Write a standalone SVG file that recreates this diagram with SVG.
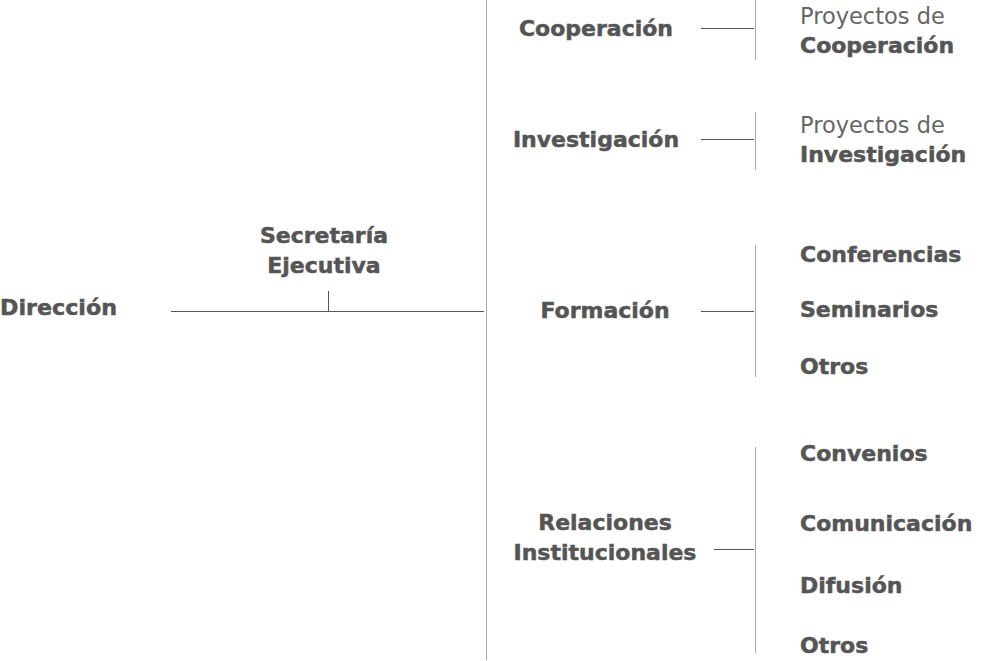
<svg xmlns="http://www.w3.org/2000/svg" width="981" height="661" viewBox="0 0 981 661">
<style>
text{font-family:"DejaVu Sans","Liberation Sans",sans-serif;fill:#555;font-size:22px}
.b{font-weight:bold;stroke:#555;stroke-width:0.5}
.r{font-weight:normal;fill:#666;font-size:22.5px}
.m{text-anchor:middle}
line{stroke:#555;stroke-width:1}
.g{stroke:#aaa}
</style>
<rect width="981" height="661" fill="#fff"/>
<g id="connectors">
<line class="g" x1="486.5" y1="0" x2="486.5" y2="660"/>
<line x1="171" y1="311.5" x2="484" y2="311.5"/>
<line x1="328.5" y1="291" x2="328.5" y2="311"/>
<line class="g" x1="755.5" y1="0" x2="755.5" y2="60"/>
<line class="g" x1="755.5" y1="112" x2="755.5" y2="170"/>
<line class="g" x1="755.5" y1="245" x2="755.5" y2="377"/>
<line class="g" x1="755.5" y1="447" x2="755.5" y2="653"/>
<line x1="701" y1="28.5" x2="754" y2="28.5"/>
<line x1="701" y1="139.5" x2="754" y2="139.5"/>
<line x1="701" y1="311.5" x2="754" y2="311.5"/>
<line x1="714" y1="549.5" x2="754" y2="549.5"/>
</g>
<g id="direccion"><text class="b" x="0" y="315" textLength="117" lengthAdjust="spacingAndGlyphs">Dirección</text></g>
<g id="secretaria"><text class="b m" x="324" y="243">Secretaría</text><text class="b m" x="324" y="273">Ejecutiva</text></g>
<g id="cooperacion"><text class="b m" x="596" y="36">Cooperación</text></g>
<g id="investigacion"><text class="b m" x="596" y="147">Investigación</text></g>
<g id="formacion"><text class="b m" x="605" y="318">Formación</text></g>
<g id="relaciones"><text class="b m" x="605" y="530">Relaciones</text><text class="b m" x="605" y="560">Institucionales</text></g>
<g id="proy-coop"><text class="r" x="800" y="24">Proyectos de</text><text class="b" x="800" y="53">Cooperación</text></g>
<g id="proy-inv"><text class="r" x="800" y="133">Proyectos de</text><text class="b" x="800" y="162">Investigación</text></g>
<g id="conferencias"><text class="b" x="800" y="262">Conferencias</text></g>
<g id="seminarios"><text class="b" x="800" y="317">Seminarios</text></g>
<g id="otros1"><text class="b" x="800" y="374">Otros</text></g>
<g id="convenios"><text class="b" x="800" y="461">Convenios</text></g>
<g id="comunicacion"><text class="b" x="800" y="531">Comunicación</text></g>
<g id="difusion"><text class="b" x="800" y="593">Difusión</text></g>
<g id="otros2"><text class="b" x="800" y="653">Otros</text></g>
</svg>
